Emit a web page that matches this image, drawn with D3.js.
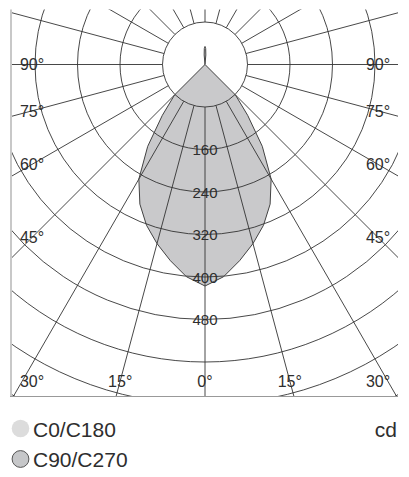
<!DOCTYPE html>
<html>
<head>
<meta charset="utf-8">
<script src="https://cdn.jsdelivr.net/npm/d3@7"></script>
<style>
  html, body { margin: 0; padding: 0; background: #fff; }
  svg text { font-family: "Liberation Sans", Arial, Helvetica, sans-serif; fill: #2e2e2e; }
</style>
</head>
<body>
<div class="chart"></div>
<script>
// gamma angles (deg from nadir) and luminous intensity (cd)
var gamma  = [0, 5, 10, 15, 20, 25, 30, 35, 40, 45, 50, 60, 70, 80, 90, 100, 110, 120, 130, 140, 150, 160, 170, 175, 177.5, 180];
var c0     = [417, 401, 375, 349, 322, 290, 249, 188, 125, 81, 0, 0, 0, 0, 0, 0, 0, 0, 0, 0, 0, 0, 0, 18, 30, 34];
var c180   = [417, 401, 375, 349, 322, 290, 249, 188, 125, 81, 0, 0, 0, 0, 0, 0, 0, 0, 0, 0, 0, 0, 0, 18, 30, 34];
var c90    = [417, 401, 375, 349, 322, 290, 249, 188, 125, 81, 0, 0, 0, 0, 0, 0, 0, 0, 0, 0, 0, 0, 0, 18, 30, 34];
var c270   = [417, 401, 375, 349, 322, 290, 249, 188, 125, 81, 0, 0, 0, 0, 0, 0, 0, 0, 0, 0, 0, 0, 0, 18, 30, 34];

var ringValues  = [80, 160, 240, 320, 400, 480, 560, 640, 720, 800];
var ringLabels  = [160, 240, 320, 400, 480];
var spokeAngles = [0, 15, 30, 45, 60, 75, 90, 105, 120, 135, 150, 165, 180];
var angleLabels = [90, 75, 60, 45, 30, 15, 0];
var legendItems = ["C0/C180", "C90/C270"];
var unitLabel   = "cd";

var width = 409, height = 477;
var box = {left: 12, top: 9.5, right: 398, bottom: 397};
var cx = 205, cy = 64.5;

var r = d3.scaleLinear().domain([0, 80]).range([0, 42.5]);
var rad = function(deg){ return deg * Math.PI / 180; };

var svg = d3.select(".chart").append("svg")
    .attr("width", width).attr("height", height);

svg.append("defs").append("clipPath").attr("id", "plotclip")
  .append("rect")
    .attr("x", box.left).attr("y", box.top)
    .attr("width", box.right - box.left).attr("height", box.bottom - box.top);

var plot = svg.append("g").attr("clip-path", "url(#plotclip)");
var g = plot.append("g").attr("transform", "translate(" + cx + "," + cy + ")");

// build a closed curve: right half (a = pi - gamma), left half (a = pi + gamma)
function curvePoints(right, left){
  var pts = [];
  for(var i = 0; i < gamma.length; i++){
    pts.push({a: Math.PI - rad(gamma[i]), v: right[i]});
  }
  for(var j = gamma.length - 1; j >= 0; j--){
    pts.push({a: Math.PI + rad(gamma[j]), v: left[j]});
  }
  return pts;
}

var radial = d3.lineRadial()
    .angle(function(d){ return d.a; })
    .radius(function(d){ return r(d.v); })
    .curve(d3.curveLinearClosed);

// C0/C180 underneath, C90/C270 on top
g.append("path").attr("d", radial(curvePoints(c0, c180)))
  .attr("fill", "#dcdcdc").attr("stroke", "none");
var c90path = radial(curvePoints(c90, c270));
g.append("path").attr("d", c90path)
  .attr("fill", "#c9c9cb").attr("stroke", "none");

// grid: rings
g.selectAll("circle.ring").data(ringValues).enter().append("circle")
  .attr("class", "ring")
  .attr("r", function(d){ return r(d); })
  .attr("fill", "none").attr("stroke", "#333").attr("stroke-width", 0.9);

// grid: spokes (both sides), starting at the first ring
var spokes = [];
spokeAngles.forEach(function(a){
  spokes.push(a);
  if(a !== 0 && a !== 180) spokes.push(-a);
});
var rIn = r(ringValues[0]), rOut = 700;
g.selectAll("line.spoke").data(spokes).enter().append("line")
  .attr("class", "spoke")
  .attr("x1", function(d){ return rIn * Math.sin(rad(d)); })
  .attr("y1", function(d){ return rIn * Math.cos(rad(d)); })
  .attr("x2", function(d){ return rOut * Math.sin(rad(d)); })
  .attr("y2", function(d){ return rOut * Math.cos(rad(d)); })
  .attr("stroke", "#333").attr("stroke-width", 0.9);

// outline of C90/C270
g.append("path").attr("d", c90path)
  .attr("fill", "none").attr("stroke", "#444").attr("stroke-width", 1);

// frame: left and bottom edges
svg.append("line")
  .attr("x1", box.left - 1).attr("x2", box.left - 1)
  .attr("y1", box.top).attr("y2", box.bottom)
  .attr("stroke", "#c8c8c8").attr("stroke-width", 2);
svg.append("line")
  .attr("x1", box.left - 2).attr("x2", box.right)
  .attr("y1", box.bottom - 0.5).attr("y2", box.bottom - 0.5)
  .attr("stroke", "#999").attr("stroke-width", 1);

// ring labels on the nadir axis
svg.selectAll("text.ringlab").data(ringLabels).enter().append("text")
  .attr("class", "ringlab")
  .attr("x", cx)
  .attr("y", function(d){ return cy + r(d) + 5.5; })
  .attr("text-anchor", "middle")
  .style("font-size", "15px")
  .text(function(d){ return d; });

// angle labels: left/right columns, or along the bottom row
var inset = 20, bottomY = 381;
var angPos = [];
angleLabels.forEach(function(a){
  var sides = a === 0 ? [1] : [-1, 1];
  sides.forEach(function(s){
    var t = Math.tan(rad(a));
    var dxEdge = (s < 0 ? cx - box.left : box.right - cx);
    var yAtEdge = a === 0 ? Infinity : cy + dxEdge / t;
    var x, y;
    if(yAtEdge <= box.bottom){
      x = cx + s * (dxEdge - inset);
      y = cy + (dxEdge - inset) / t;
    } else {
      var dx = Math.min((bottomY - cy) * t, dxEdge - inset);
      x = cx + s * dx;
      y = bottomY;
    }
    angPos.push({a: a, x: x, y: y});
  });
});
svg.selectAll("text.anglab").data(angPos).enter().append("text")
  .attr("class", "anglab")
  .attr("x", function(d){ return d.x; })
  .attr("y", function(d){ return d.y + 5.8; })
  .attr("text-anchor", "middle")
  .style("font-size", "16px")
  .text(function(d){ return d.a + "°"; });

// legend
var legend = svg.selectAll("g.legend").data(legendItems).enter().append("g")
  .attr("class", "legend")
  .attr("transform", function(d, i){ return "translate(0," + (428.5 + i * 30.5) + ")"; });
legend.append("circle")
  .attr("cx", 20.5).attr("cy", 0).attr("r", function(d, i){ return i ? 8.4 : 8.8; })
  .attr("fill", function(d, i){ return i ? "#c6c7c9" : "#dcdcdc"; })
  .attr("stroke", function(d, i){ return i ? "#555" : "none"; })
  .attr("stroke-width", 1);
legend.append("text")
  .attr("x", 33).attr("y", 8)
  .style("font-size", "21px")
  .text(function(d){ return d; });

svg.append("text")
  .attr("x", 397).attr("y", 436.5)
  .attr("text-anchor", "end")
  .style("font-size", "21px")
  .text(unitLabel);
</script>
</body>
</html>
